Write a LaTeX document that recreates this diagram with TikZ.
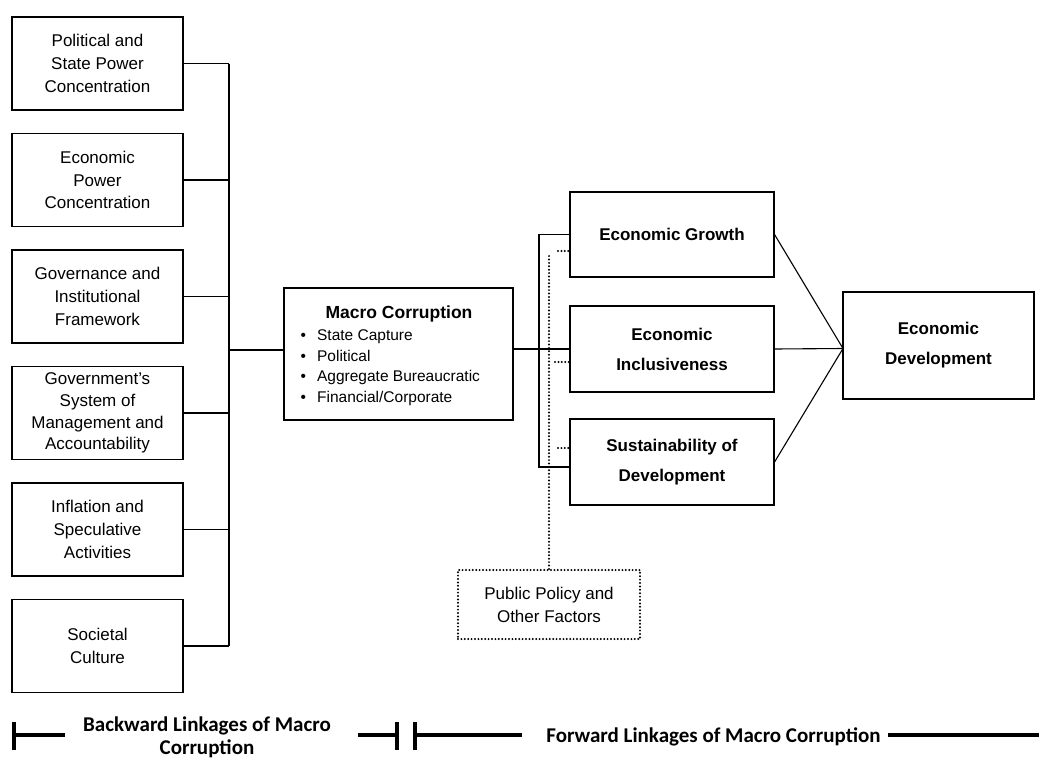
\documentclass[tikz,border=0pt]{standalone}
\usepackage{fontspec}
\setmainfont{Liberation Sans}
\newfontfamily\legendfont{Carlito}
\begin{document}
\begin{tikzpicture}[x=1pt,y=-1pt,
  every node/.style={inner sep=0pt},
  lbox/.style={draw,line width=1.1pt,minimum width=171pt,minimum height=93pt,align=center,
    font=\fontsize{17}{22.7}\selectfont},
  rbox/.style={draw,line width=1.1pt,minimum width=204pt,minimum height=86pt,align=center,
    font=\bfseries\fontsize{17}{30}\selectfont},
  link/.style={line width=1.1pt},
  dots/.style={line width=2.2pt,line cap=round,dash pattern=on 0pt off 3.4pt},
  leg/.style={line width=3.2pt},
  legtext/.style={font=\legendfont\bfseries\fontsize{21}{23}\selectfont}]
\useasboundingbox (0,0) rectangle (1039,758);

% left boxes
\node[lbox] (b1) at (97.5,63.5) {Political and\\State Power\\Concentration};
\node[lbox] (b2) at (97.5,180) {Economic\\Power\\Concentration};
\node[lbox] (b3) at (97.5,296.5) {Governance and\\Institutional\\Framework};
\node[lbox,font=\fontsize{17}{21.7}\selectfont] (b4) at (97.5,413) {Government's\\System of\\Management and\\Accountability};
\node[lbox] (b5) at (97.5,529.5) {Inflation and\\Speculative\\Activities};
\node[lbox] (b6) at (97.5,646) {Societal\\Culture};

% macro corruption
\node[draw,line width=1.1pt,minimum width=229pt,minimum height=132pt] (mc) at (398.5,354) {};
\node[anchor=base,font=\bfseries\fontsize{17.5}{20}\selectfont] (mct) at (399,318) {Macro Corruption};
\node[anchor=base west,font=\fontsize{15.5}{20.7}\selectfont] (mcl) at (300.5,340.5)
  {\begin{tabular}[t]{@{}l@{\hspace{11pt}}l@{}}
   \textbullet & State Capture\\
   \textbullet & Political\\
   \textbullet & Aggregate Bureaucratic\\
   \textbullet & Financial/Corporate
   \end{tabular}};

% right boxes
\node[rbox,minimum height=85pt] (gr) at (672,234.5) {Economic Growth};
\node[rbox] (inc) at (672,349) {Economic\\Inclusiveness};
\node[rbox] (sus) at (672,462) {Sustainability of\\Development};
\node[draw,line width=1.1pt,minimum width=191pt,minimum height=107pt,align=center,
  font=\bfseries\fontsize{17}{30}\selectfont] (dev) at (938.5,345.5) {Economic\\Development};

% public policy
\node[draw,dots,minimum width=182pt,minimum height=69pt,align=center,
  font=\fontsize{17}{23}\selectfont] (pp) at (549,604.5) {Public Policy and\\Other Factors};

% backward connectors
\coordinate (sp) at (229,0);
\foreach \b in {b1,b2,b3,b4,b5,b6}{\draw[link] (\b.east) -- (\b.east -| sp);}
\draw[link] (b1.east -| sp) -- (b6.east -| sp);
\coordinate (j) at (229,350);
\draw[link] (j) -- (j -| mc.west);

% forward connectors
\coordinate (bk) at (539,467);
\draw[link] (mc.east |- inc.west) -- (inc.west);
\draw[link] (gr.west) -- (gr.west -| bk) -- (bk) -- (bk -| sus.west);
\coordinate (dv) at (843,348.5);
\draw[link] (gr.east) -- (dv);
\draw[link] (inc.east) -- (dv);
\draw[link] (sus.east) -- (dv);

% dotted influence
\coordinate (dtop) at (550,256);
\draw[dots] (pp.north) -- (pp.north |- dtop);
\coordinate (s1) at (558,251);
\coordinate (s2) at (555,362);
\coordinate (s3) at (558,448);
\draw[dots] (s1) -- (s1 -| gr.west);
\draw[dots] (s2) -- (s2 -| inc.west);
\draw[dots] (s3) -- (s3 -| sus.west);

% legend
\coordinate (l1a) at (14,722); \coordinate (l1b) at (14,750);
\draw[leg] (l1a) -- (l1b);
\draw[leg] (14,735) -- (65,735);
\node[legtext,anchor=base] (bt1) at (207,731) {Backward Linkages of Macro};
\node[legtext,anchor=base] (bt2) at (207,754) {Corruption};
\draw[leg] (358,735) -- (397,735);
\draw[leg] (397,722) -- (397,750);
\draw[leg] (415,722) -- (415,750);
\draw[leg] (415,735) -- (522,735);
\node[legtext,anchor=base] (ft) at (713.5,742) {Forward Linkages of Macro Corruption};
\draw[leg] (ft.east |- 0,735) ++(7,0) -- (1039,735);
\end{tikzpicture}
\end{document}
